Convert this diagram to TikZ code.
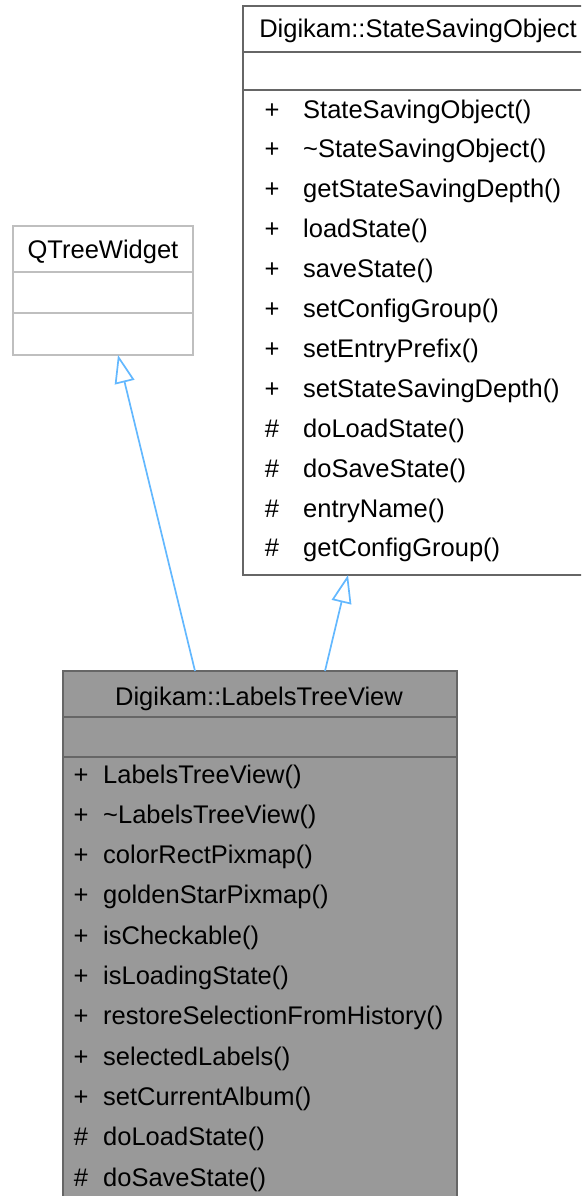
\documentclass[tikz,border=0pt]{standalone}
\usepackage{fontspec}
\setmainfont{Liberation Sans}
\usetikzlibrary{arrows.meta}
\definecolor{cdark}{HTML}{666666}
\definecolor{clight}{HTML}{BFBFBF}
\definecolor{cfill}{HTML}{999999}
\definecolor{arrowblue}{HTML}{63B8FF}
\begin{document}
\begin{tikzpicture}[x=1pt,y=-1pt,
  box/.style={draw, line width=1.4pt, inner sep=0pt, outer sep=0pt, anchor=north west},
  txt/.style={anchor=base west, inner sep=0pt, font=\fontsize{25.5}{30}\selectfont},
  ttl/.style={anchor=base, inner sep=0pt, font=\fontsize{25.5}{30}\selectfont},
  sym/.style={anchor=base, inner sep=0pt, font=\fontsize{25.5}{30}\selectfont},
  sep/.style={line width=1.4pt},
  inh/.style={draw=arrowblue, line width=1.7pt, -{Triangle[length=28pt, width=20pt, fill=white]}}]
\useasboundingbox (0,0) rectangle (581,1196);
\clip (0,0) rectangle (581,1196);
% StateSavingObject
\node[box, fill=white, draw=cdark, minimum width=350pt, minimum height=569pt] (sso) at (243,6) {};
\draw[sep, cdark] (sso.west |- 0,52) -- (sso.east |- 0,52);
\draw[sep, cdark] (sso.west |- 0,90) -- (sso.east |- 0,90);
\node[ttl] (ssot) at (418,38) {Digikam::StateSavingObject};
\foreach \s/\n [count=\i from 0] in {+/StateSavingObject(),+/\textasciitilde StateSavingObject(),+/getStateSavingDepth(),+/loadState(),+/saveState(),+/setConfigGroup(),+/setEntryPrefix(),+/setStateSavingDepth(),\#/doLoadState(),\#/doSaveState(),\#/entryName(),\#/getConfigGroup()}{
  \node[sym] (ssos\i) at (272,118+39.9*\i) {\s};
  \node[txt] (sson\i) at (303,118+39.9*\i) {\n};
}
% QTreeWidget
\node[box, fill=white, draw=clight, minimum width=180pt, minimum height=129pt] (qtw) at (13,226) {};
\draw[sep, clight] (qtw.west |- 0,272) -- (qtw.east |- 0,272);
\draw[sep, clight] (qtw.west |- 0,313) -- (qtw.east |- 0,313);
\node[ttl] (qtwt) at (103,258) {QTreeWidget};
% LabelsTreeView
\node[box, fill=cfill, draw=cdark, minimum width=394pt, minimum height=545pt] (ltv) at (63,671) {};
\draw[sep, cdark] (ltv.west |- 0,717) -- (ltv.east |- 0,717);
\draw[sep, cdark] (ltv.west |- 0,757) -- (ltv.east |- 0,757);
\node[ttl] (ltvt) at (259,705) {Digikam::LabelsTreeView};
\foreach \s/\n [count=\i from 0] in {+/LabelsTreeView(),+/\textasciitilde LabelsTreeView(),+/colorRectPixmap(),+/goldenStarPixmap(),+/isCheckable(),+/isLoadingState(),+/restoreSelectionFromHistory(),+/selectedLabels(),+/setCurrentAlbum(),\#/doLoadState(),\#/doSaveState()}{
  \node[sym] (ltvs\i) at (81,783+40.3*\i) {\s};
  \node[txt] (ltvn\i) at (103,783+40.3*\i) {\n};
}
% inheritance
\draw[inh] ([xshift=132pt]ltv.north west) -- ([xshift=105pt]qtw.south west);
\draw[inh] ([xshift=262pt]ltv.north west) -- ([xshift=105pt]sso.south west);
\end{tikzpicture}
\end{document}
